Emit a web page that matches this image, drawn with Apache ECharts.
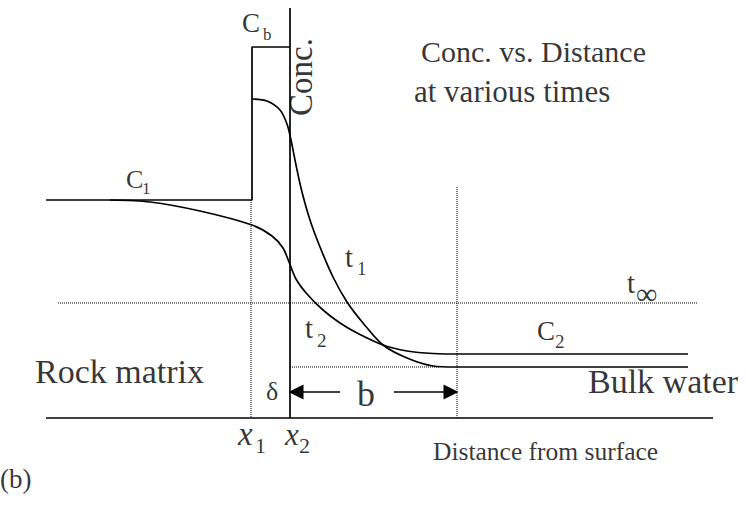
<!DOCTYPE html>
<html>
<head>
<meta charset="utf-8">
<script src="https://cdn.jsdelivr.net/npm/echarts@6/dist/echarts.min.js"></script>
<style>
html,body{margin:0;padding:0;background:#fff;}
#chart{width:746px;height:508px;}
</style>
</head>
<body>
<div id="chart"></div>
<script>
// Schematic coordinates: x = distance (position units), y = concentration level (screen-like, downwards)
const distanceAxis = [[46, 418], [713, 418]];
const concAxis = [[290, 8], [290, 418]];
const initialProfile = [[46, 200], [252, 200], [252, 47], [290, 47]];
const profileT1 = [[252, 99], [267, 101], [280, 110], [287, 124], [291, 140], [296, 165], [302, 192], [310, 220], [320, 247], [333, 277], [347, 302], [363, 323], [383, 345], [407, 358], [433, 366], [455, 367], [688, 367]];
const profileT2 = [[110, 200], [150, 202], [200, 211], [252, 225], [272, 236], [283, 248], [289, 262], [296, 279], [307, 294], [323, 310], [340, 323], [357, 333], [383, 345], [407, 351], [433, 353.5], [465, 354], [688, 354]];
const guideX1 = [[251, 200], [251, 418]];
const guideB = [[457, 187], [457, 418]];
const levelTinf = [[58, 303], [697, 303]];
const levelDelta = [[290, 367], [440, 367]];
const arrowLeft = [[340, 392], [296, 392]];
const arrowRight = [[394, 392], [451, 392]];

const labelTexts = ['C', 'b', 'Conc.', 'Conc. vs. Distance', 'at various times', 'C', '1', 't', '1', 't', '2', 't', '\u221E', 'C', '2', '\u03B4', 'b', 'x', '1', 'x', '2', 'Rock matrix', 'Bulk water', 'Distance from surface', '(b)'];
// [x, baselineY] anchors
const labelAnchors = [[242, 32], [263, 40], [312, 77], [421, 62], [414, 102], [126, 188], [142, 194], [345, 267], [357, 275], [305, 338], [317, 347], [627, 293], [636, 304], [537, 340], [555, 348], [266, 400], [366, 406], [238, 445], [255, 453], [285, 445], [299, 453], [35, 383], [588, 393], [433, 460], [0, 488]];
const labelSizes = [27, 17, 33, 30, 31, 26, 17, 29, 19, 29, 19, 29, 30, 27, 19, 26, 36, 33, 22, 31, 22, 34, 34, 25.5, 27];
const italicIdx = [17, 19];

const FONT = '"Liberation Serif", "Times New Roman", serif';

function lineSeries(data, type, smooth) {
  return {
    type: 'line', data: data, symbol: 'none', smooth: smooth || false,
    lineStyle: {color: '#000', width: type === 'dotted' ? 1 : 1.7, type: type || 'solid'},
    silent: true, animation: false, z: type === 'dotted' ? 1 : 3
  };
}

const labelData = labelTexts.map((t, i) => {
  const fs = labelSizes[i];
  const a = labelAnchors[i];
  if (i === 2) {
    return {value: [a[0] - 0.34 * fs, a[1]], label: {show: true, formatter: t, fontSize: fs, rotate: 90, align: 'center', verticalAlign: 'middle', fontFamily: FONT, color: '#000'}};
  }
  return {
    value: [a[0], a[1] - 0.34 * fs],
    label: {show: true, formatter: t, fontSize: fs, align: i === 16 ? 'center' : 'left', verticalAlign: 'middle', fontFamily: FONT, color: '#000', fontStyle: italicIdx.includes(i) ? 'italic' : 'normal'}
  };
});

const chart = echarts.init(document.getElementById('chart'), null, {renderer: 'svg'});
chart.setOption({
  animation: false,
  backgroundColor: '#fff',
  grid: {left: 0, right: 0, top: 0, bottom: 0},
  xAxis: {type: 'value', min: 0, max: 746, show: false},
  yAxis: {type: 'value', min: 0, max: 508, inverse: true, show: false},
  series: [
    lineSeries(distanceAxis),
    lineSeries(concAxis),
    lineSeries(initialProfile),
    lineSeries(profileT1, 'solid', 0.3),
    lineSeries(profileT2, 'solid', 0.3),
    lineSeries(guideX1, 'dotted'),
    lineSeries(guideB, 'dotted'),
    lineSeries(levelTinf, 'dotted'),
    lineSeries(levelDelta, 'dotted'),
    {
      type: 'lines', coordinateSystem: 'cartesian2d', silent: true, animation: false,
      symbol: ['none', 'triangle'], symbolSize: 15,
      lineStyle: {color: '#000', width: 1.7, opacity: 1, curveness: 0},
      data: [{coords: arrowLeft}, {coords: arrowRight}]
    },
    {
      type: 'scatter', symbolSize: 0, silent: true, animation: false, z: 5,
      data: labelData,
      label: {show: true, position: 'inside'}
    }
  ]
});
</script>
</body>
</html>
